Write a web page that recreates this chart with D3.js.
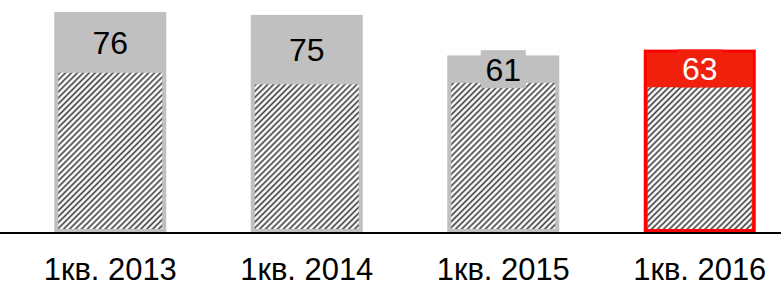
<!DOCTYPE html>
<html>
<head>
<meta charset="utf-8">
<script src="https://cdn.jsdelivr.net/npm/d3@7"></script>
<style>
  body { margin: 0; background: #fff; }
  svg { display: block; font-family: "Liberation Sans", Arial, sans-serif; }
</style>
</head>
<body>
<svg id="chart"></svg>
<script>
const categories = ["1кв. 2013", "1кв. 2014", "1кв. 2015", "1кв. 2016"];
const totals = [76, 75, 61, 63];
const hatched = [55, 51, 51.5, 50];
const highlight = [false, false, false, true];

const width = 781, height = 286;
const base = 232;

const svg = d3.select("#chart")
    .attr("width", width)
    .attr("height", height);

const x = d3.scaleBand()
    .domain(categories)
    .range([12, 798])
    .paddingInner(0.43)
    .paddingOuter(0.215);

const y = d3.scaleLinear()
    .domain([0, 80])
    .range([base, base - 231.6]);

const defs = svg.append("defs");
defs.append("pattern")
    .attr("id", "hatch")
    .attr("patternUnits", "userSpaceOnUse")
    .attr("width", 4.2)
    .attr("height", 4.2)
    .attr("patternTransform", "rotate(45)")
    .call(p => {
        p.append("rect").attr("width", 4.2).attr("height", 4.2).attr("fill", "#fff");
        p.append("line")
            .attr("x1", 1.2).attr("y1", 0).attr("x2", 1.2).attr("y2", 4.2)
            .attr("stroke", "#3a3a3a").attr("stroke-width", 1.6);
    });

const data = categories.map((c, i) => ({
    cat: c, total: totals[i], hatch: hatched[i], hot: highlight[i]
}));

const bars = svg.selectAll(".bar")
    .data(data)
    .enter()
    .append("g")
    .attr("class", "bar");

// whole bar
bars.append("rect")
    .attr("x", d => x(d.cat) + (d.hot ? 1.5 : 0))
    .attr("y", d => y(d.total) + (d.hot ? 1.5 : 0))
    .attr("width", d => x.bandwidth() - (d.hot ? 3 : 0))
    .attr("height", d => base - y(d.total) - (d.hot ? 3 : 0))
    .attr("fill", d => d.hot ? "#f0200c" : "#c0c0c0")
    .attr("stroke", d => d.hot ? "#ff0000" : "none")
    .attr("stroke-width", 3);

// hatched part
bars.append("rect")
    .attr("x", d => x(d.cat) + 4)
    .attr("y", d => y(d.hatch))
    .attr("width", x.bandwidth() - 8)
    .attr("height", d => base - y(d.hatch) - 3)
    .attr("fill", "url(#hatch)");

// value labels, centred in the top segment
const labelY = d => (y(d.total) + y(d.hatch)) / 2;

bars.append("rect")
    .attr("x", d => x(d.cat) + x.bandwidth() / 2 - 22.5)
    .attr("y", d => labelY(d) - 19)
    .attr("width", 45)
    .attr("height", 38)
    .attr("fill", d => d.hot ? "#f0200c" : "#c0c0c0");

bars.append("text")
    .attr("x", d => x(d.cat) + x.bandwidth() / 2)
    .attr("y", d => labelY(d))
    .attr("dy", "0.36em")
    .attr("text-anchor", "middle")
    .attr("font-size", 32)
    .attr("fill", d => d.hot ? "#fff" : "#000")
    .text(d => d.total);

// baseline
svg.append("line")
    .attr("x1", 0).attr("x2", width)
    .attr("y1", base + 1).attr("y2", base + 1)
    .attr("stroke", "#000")
    .attr("stroke-width", 2);

// category labels
svg.selectAll(".cat")
    .data(categories)
    .enter()
    .append("text")
    .attr("class", "cat")
    .attr("x", d => x(d) + x.bandwidth() / 2)
    .attr("y", 279.5)
    .attr("text-anchor", "middle")
    .attr("font-size", 32)
    .attr("textLength", 133)
    .attr("lengthAdjust", "spacingAndGlyphs")
    .text(d => d);
</script>
</body>
</html>
